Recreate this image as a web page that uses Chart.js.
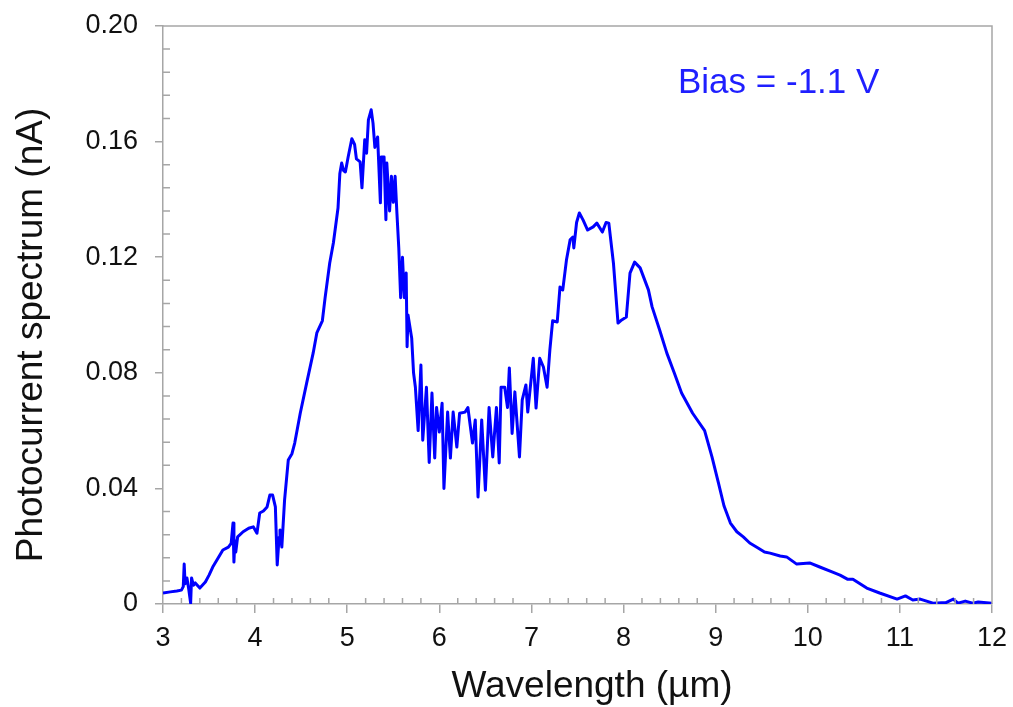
<!DOCTYPE html>
<html>
<head>
<meta charset="utf-8">
<script src="https://cdn.jsdelivr.net/npm/chart.js@4.4.1/dist/chart.umd.min.js"></script>
<style>
  html, body { margin: 0; padding: 0; background: #fff; }
  #wrap { width: 1013px; height: 707px; }
</style>
</head>
<body>
<div id="wrap"><canvas id="chart" width="1013" height="707"></canvas></div>
<script>
// values
const wavelength = [
    3.00, 3.08, 3.15, 3.20, 3.22, 3.23, 3.24, 3.26, 3.28, 3.30, 3.31, 3.33, 3.35, 3.40, 3.46, 3.50,
    3.54, 3.60, 3.65, 3.71, 3.74, 3.76, 3.77, 3.78, 3.79, 3.81, 3.87, 3.93, 3.98, 4.02, 4.05, 4.09,
    4.13, 4.16, 4.19, 4.22, 4.24, 4.26, 4.27, 4.29, 4.32, 4.36, 4.40, 4.43, 4.49, 4.56, 4.63, 4.67,
    4.73, 4.76, 4.81, 4.85, 4.90, 4.92, 4.94, 4.96, 4.98, 5.01, 5.05, 5.08, 5.10, 5.14, 5.16, 5.19,
    5.21, 5.23, 5.26, 5.28, 5.30, 5.33, 5.36, 5.37, 5.40, 5.42, 5.43, 5.46, 5.48, 5.50, 5.52, 5.54,
    5.56, 5.58, 5.60, 5.62, 5.64, 5.65, 5.66, 5.70, 5.72, 5.74, 5.77, 5.80, 5.82, 5.86, 5.89, 5.92,
    5.95, 5.97, 6.00, 6.03, 6.05, 6.09, 6.12, 6.15, 6.19, 6.22, 6.28, 6.31, 6.36, 6.39, 6.42, 6.46,
    6.50, 6.54, 6.58, 6.62, 6.65, 6.67, 6.71, 6.74, 6.76, 6.79, 6.82, 6.87, 6.90, 6.94, 6.96, 7.02,
    7.05, 7.09, 7.13, 7.17, 7.20, 7.23, 7.28, 7.31, 7.34, 7.38, 7.42, 7.45, 7.46, 7.49, 7.52, 7.56,
    7.61, 7.67, 7.71, 7.77, 7.81, 7.84, 7.89, 7.94, 7.98, 8.03, 8.07, 8.12, 8.18, 8.27, 8.31, 8.39,
    8.47, 8.55, 8.63, 8.75, 8.88, 8.96, 9.03, 9.09, 9.16, 9.23, 9.30, 9.37, 9.46, 9.53, 9.59, 9.70,
    9.77, 9.88, 10.02, 10.13, 10.27, 10.35, 10.43, 10.49, 10.64, 10.78, 10.97, 11.06, 11.14, 11.22,
    11.36, 11.50, 11.58, 11.63, 11.71, 11.79, 11.85, 12.00
];
const photocurrent = [
    0.0038, 0.0042, 0.0045, 0.0048, 0.0060, 0.0138, 0.0070, 0.0090, 0.0050, 0.0003, 0.0090, 0.0065, 0.0073, 0.0055, 0.0076, 0.0100,
    0.0128, 0.0160, 0.0187, 0.0197, 0.0210, 0.0280, 0.0145, 0.0220, 0.0180, 0.0232, 0.0250, 0.0262, 0.0267, 0.0245, 0.0315, 0.0322,
    0.0336, 0.0377, 0.0377, 0.0336, 0.0135, 0.0230, 0.0256, 0.0197, 0.0360, 0.0498, 0.0520, 0.0557, 0.0660, 0.0765, 0.0868, 0.0938,
    0.0980, 0.1060, 0.1180, 0.1250, 0.1370, 0.1490, 0.1526, 0.1500, 0.1495, 0.1547, 0.1610, 0.1590, 0.1540, 0.1530, 0.1440, 0.1606,
    0.1560, 0.1675, 0.1710, 0.1664, 0.1580, 0.1616, 0.1388, 0.1547, 0.1547, 0.1330, 0.1526, 0.1360, 0.1480, 0.1390, 0.1480, 0.1350,
    0.1230, 0.1060, 0.1200, 0.1060, 0.1145, 0.0890, 0.1000, 0.0920, 0.0800, 0.0750, 0.0600, 0.0827, 0.0567, 0.0750, 0.0490, 0.0730,
    0.0505, 0.0680, 0.0595, 0.0695, 0.0400, 0.0664, 0.0505, 0.0664, 0.0543, 0.0660, 0.0664, 0.0680, 0.0557, 0.0637, 0.0370, 0.0637,
    0.0394, 0.0680, 0.0509, 0.0680, 0.0488, 0.0750, 0.0750, 0.0680, 0.0817, 0.0590, 0.0734, 0.0509, 0.0706, 0.0758, 0.0664, 0.0850,
    0.0678, 0.0850, 0.0820, 0.0750, 0.0879, 0.0980, 0.0976, 0.1097, 0.1087, 0.1190, 0.1260, 0.1270, 0.1232, 0.1320, 0.1353, 0.1329,
    0.1294, 0.1305, 0.1318, 0.1287, 0.1320, 0.1318, 0.1180, 0.0972, 0.0983, 0.0993, 0.1145, 0.1183, 0.1163, 0.1087, 0.1028, 0.0950,
    0.0868, 0.0800, 0.0730, 0.0660, 0.0600, 0.0509, 0.0419, 0.0340, 0.0280, 0.0250, 0.0232, 0.0211, 0.0194, 0.0180, 0.0176, 0.0166,
    0.0163, 0.0138, 0.0142, 0.0128, 0.0110, 0.0100, 0.0086, 0.0086, 0.0055, 0.0038, 0.0017, 0.0028, 0.0014, 0.0017,
    0.0003, 0.0005, 0.0017, 0.0003, 0.0010, 0.0003, 0.0007, 0.0003
];
const xTicks = [3, 4, 5, 6, 7, 8, 9, 10, 11, 12];
const yTicks = [0, 0.04, 0.08, 0.12, 0.16, 0.20];

const axisColor = '#a6a6a6';
const fontFamily = '"Liberation Sans", Arial, Helvetica, sans-serif';

const points = wavelength.map((w, i) => ({ x: w, y: photocurrent[i] }));

// frame, minor ticks and text labels
const decorations = {
    id: 'decorations',
    afterDraw(chart) {
        const ctx = chart.ctx;
        const area = chart.chartArea;
        const xs = chart.scales.x;
        const ys = chart.scales.y;
        ctx.save();
        ctx.strokeStyle = axisColor;
        ctx.lineWidth = 1.5;

        // top and right border
        ctx.beginPath();
        ctx.moveTo(area.left, area.top);
        ctx.lineTo(area.right, area.top);
        ctx.lineTo(area.right, area.bottom);
        ctx.stroke();

        // minor ticks point inward
        ctx.beginPath();
        for (let i = 0; i < xTicks.length - 1; i++) {
            for (let k = 1; k < 5; k++) {
                const px = xs.getPixelForValue(xTicks[i] + k * 0.2);
                ctx.moveTo(px, area.bottom);
                ctx.lineTo(px, area.bottom - 6);
            }
        }
        for (let i = 0; i < yTicks.length - 1; i++) {
            for (let k = 1; k < 5; k++) {
                const py = ys.getPixelForValue(yTicks[i] + k * 0.008);
                ctx.moveTo(area.left, py);
                ctx.lineTo(area.left + 7, py);
            }
        }
        ctx.stroke();

        // axis titles
        ctx.fillStyle = '#111';
        ctx.font = '37px ' + fontFamily;
        ctx.textAlign = 'center';
        ctx.textBaseline = 'alphabetic';
        ctx.fillText('Wavelength (\u00b5m)', 592, 697);

        ctx.save();
        ctx.translate(42, 335);
        ctx.rotate(-Math.PI / 2);
        ctx.fillText('Photocurrent spectrum (nA)', 0, 0);
        ctx.restore();

        // annotation
        ctx.fillStyle = '#1f1fff';
        ctx.font = '35px ' + fontFamily;
        ctx.textAlign = 'left';
        ctx.fillText('Bias = -1.1 V', 678, 93);
        ctx.restore();
    }
};

const ctx = document.getElementById('chart').getContext('2d');
const myChart = new Chart(ctx, {
    type: 'line',
    data: {
        datasets: [
            {
                label: 'Photocurrent',
                data: points,
                borderColor: '#0000ff',
                borderWidth: 3,
                pointRadius: 0,
                tension: 0,
                borderJoinStyle: 'round',
                fill: false
            }
        ]
    },
    options: {
        responsive: false,
        animation: false,
        events: [],
        layout: {
            padding: { top: 26, right: 21, left: 0, bottom: 0 }
        },
        plugins: {
            legend: { display: false },
            tooltip: { enabled: false }
        },
        scales: {
            x: {
                type: 'linear',
                min: 3,
                max: 12,
                afterBuildTicks: scale => { scale.ticks = xTicks.map(v => ({ value: v })); },
                afterFit: scale => {
                    scale.height = 103;
                    scale.paddingLeft = 0;
                    scale.paddingRight = 0;
                },
                grid: {
                    drawOnChartArea: false,
                    drawTicks: true,
                    tickLength: 9,
                    color: axisColor,
                    lineWidth: 1.5
                },
                border: { color: axisColor, width: 1.5 },
                ticks: {
                    color: '#111',
                    padding: 9,
                    maxRotation: 0,
                    font: { family: fontFamily, size: 27 }
                }
            },
            y: {
                type: 'linear',
                min: 0,
                max: 0.2,
                afterBuildTicks: scale => { scale.ticks = yTicks.map(v => ({ value: v })); },
                afterFit: scale => {
                    scale.width = 163;
                    scale.paddingTop = 0;
                    scale.paddingBottom = 0;
                },
                grid: {
                    drawOnChartArea: false,
                    drawTicks: true,
                    tickLength: 8,
                    color: axisColor,
                    lineWidth: 1.5
                },
                border: { color: axisColor, width: 1.5 },
                ticks: {
                    color: '#111',
                    padding: 17,
                    font: { family: fontFamily, size: 27 },
                    callback: v => v === 0 ? '0' : v.toFixed(2)
                }
            }
        }
    },
    plugins: [decorations]
});
</script>
</body>
</html>
